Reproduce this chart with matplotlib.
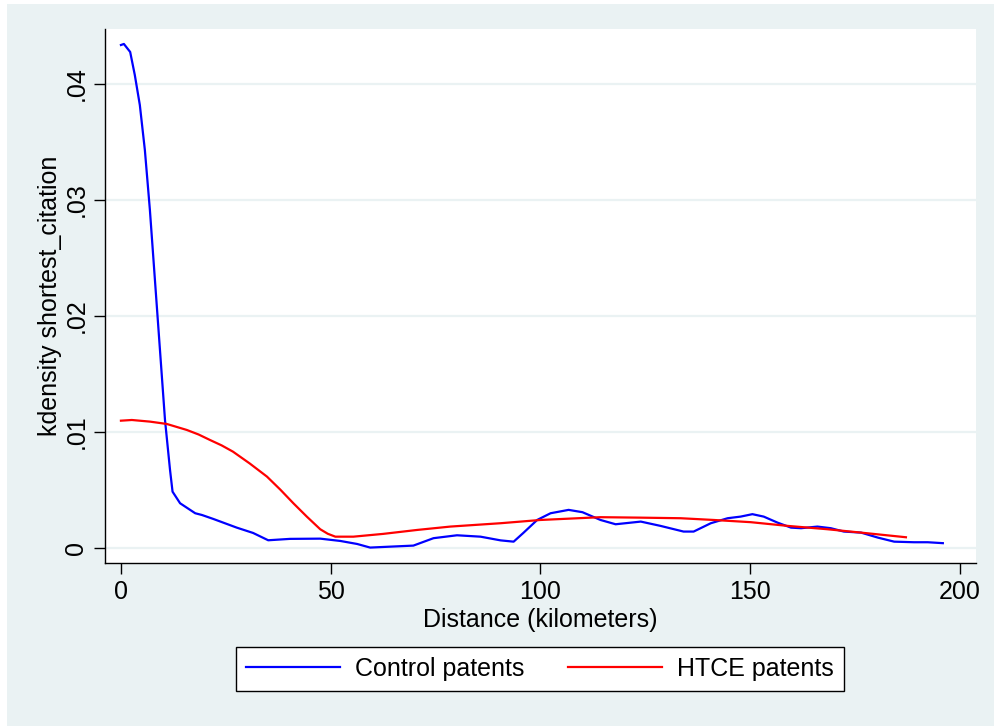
import matplotlib
matplotlib.use("Agg")
import matplotlib.pyplot as plt
from matplotlib.patches import Rectangle

plt.rcParams['font.family'] = ['Liberation Sans', 'DejaVu Sans']

# kdensity estimates
control_x = [0, 0.7, 2.2, 3.3, 4.5, 5.7, 6.9, 8.1, 9.3, 10.5, 11.7, 12.3, 14.1, 17.7,
             19.3, 22.0, 27.6, 31.5, 35.1, 40.3, 47.5, 52.3, 56.3, 59.4, 64.2, 69.7,
             74.5, 80.1, 85.7, 90.5, 93.6, 95.9, 99.2, 102.4, 106.7, 110.0, 114.3,
             117.9, 123.9, 128.6, 134.1, 136.5, 140.6, 144.6, 147.7, 150.5, 153.2,
             156.5, 159.7, 162.1, 166.0, 169.2, 172.3, 176.4, 180.4, 184.3, 189.0,
             192.3, 195.9]
control_y = [0.04336, 0.04345, 0.04276, 0.04078, 0.03819, 0.03431, 0.02914, 0.02310,
             0.01707, 0.01103, 0.00672, 0.00485, 0.00385, 0.00299, 0.00284, 0.00250,
             0.00175, 0.00129, 0.00066, 0.00078, 0.00080, 0.00060, 0.00034, 0.00003,
             0.00011, 0.00020, 0.00084, 0.00109, 0.00097, 0.00065, 0.00054, 0.00129,
             0.00241, 0.00299, 0.00328, 0.00308, 0.00241, 0.00204, 0.00227, 0.00190,
             0.00141, 0.00141, 0.00213, 0.00256, 0.00270, 0.00291, 0.00270, 0.00218,
             0.00175, 0.00170, 0.00184, 0.00170, 0.00141, 0.00132, 0.00089, 0.00054,
             0.00049, 0.00049, 0.00041]

htce_x = [0, 2.6, 6.9, 10.9, 15.7, 18.5, 21.2, 24.0, 26.7, 30.7, 34.8, 38.0, 41.1,
          44.3, 47.5, 49.3, 51.1, 55.4, 62.5, 70.6, 78.5, 90.5, 100.0, 114.3, 123.9,
          133.4, 141.3, 150.1, 158.9, 168.4, 176.4, 187.1]
htce_y = [0.01097, 0.01103, 0.01089, 0.01069, 0.01017, 0.00978, 0.00931, 0.00884,
          0.00830, 0.00728, 0.00615, 0.00502, 0.00385, 0.00270, 0.00161, 0.00122,
          0.00097, 0.00097, 0.00121, 0.00155, 0.00184, 0.00213, 0.00241, 0.00265,
          0.00261, 0.00256, 0.00241, 0.00222, 0.00190, 0.00161, 0.00132, 0.00092]

xticks = [0, 50, 100, 150, 200]
yticks = [0, 0.01, 0.02, 0.03, 0.04]
ytick_labels = ['0', '.01', '.02', '.03', '.04']

bg = '#EAF2F3'

fig = plt.figure(figsize=(9.94, 7.26), dpi=100, facecolor='white')
fig.patches.append(Rectangle((7 / 994, 0), 1, 1 - 4 / 726, transform=fig.transFigure,
                             facecolor=bg, edgecolor='none', zorder=-10))

ax = fig.add_axes([105 / 994, 1 - 563 / 726, 871 / 994, 534 / 726])
ax.set_facecolor('white')

ax.plot(control_x, control_y, color='#0000FF', lw=1.6, label='Control patents')
ax.plot(htce_x, htce_y, color='#FF0000', lw=1.6, label='HTCE patents')

ax.set_xlim(-3.8, 203.8)
ax.set_ylim(-0.0013, 0.04474)
ax.set_xticks(xticks)
ax.set_yticks(yticks)
ax.set_yticklabels(ytick_labels, rotation=90, va='center')
ax.tick_params(axis='both', direction='out', length=8, width=1, labelsize=18, pad=4,
               colors='black')
ax.tick_params(axis='y', pad=4)
ax.grid(axis='y', color=bg, lw=1.6)
ax.set_axisbelow(True)

for s in ['top', 'right']:
    ax.spines[s].set_visible(False)
for s in ['left', 'bottom']:
    ax.spines[s].set_linewidth(1)

ax.set_xlabel('Distance (kilometers)', fontsize=18, labelpad=3)
ax.set_ylabel('kdensity shortest_citation', fontsize=18, labelpad=2)

leg = fig.legend(loc='center', bbox_to_anchor=(540 / 994, 1 - 669 / 726), ncol=2,
                 fontsize=18, frameon=True, fancybox=False, edgecolor='black',
                 facecolor='white', framealpha=1,
                 handlelength=3.75, handletextpad=0.6, columnspacing=1.75,
                 borderpad=0.4, borderaxespad=0)
leg.get_frame().set_linewidth(1)

fig.savefig('out.png', dpi=100, facecolor=fig.get_facecolor())
